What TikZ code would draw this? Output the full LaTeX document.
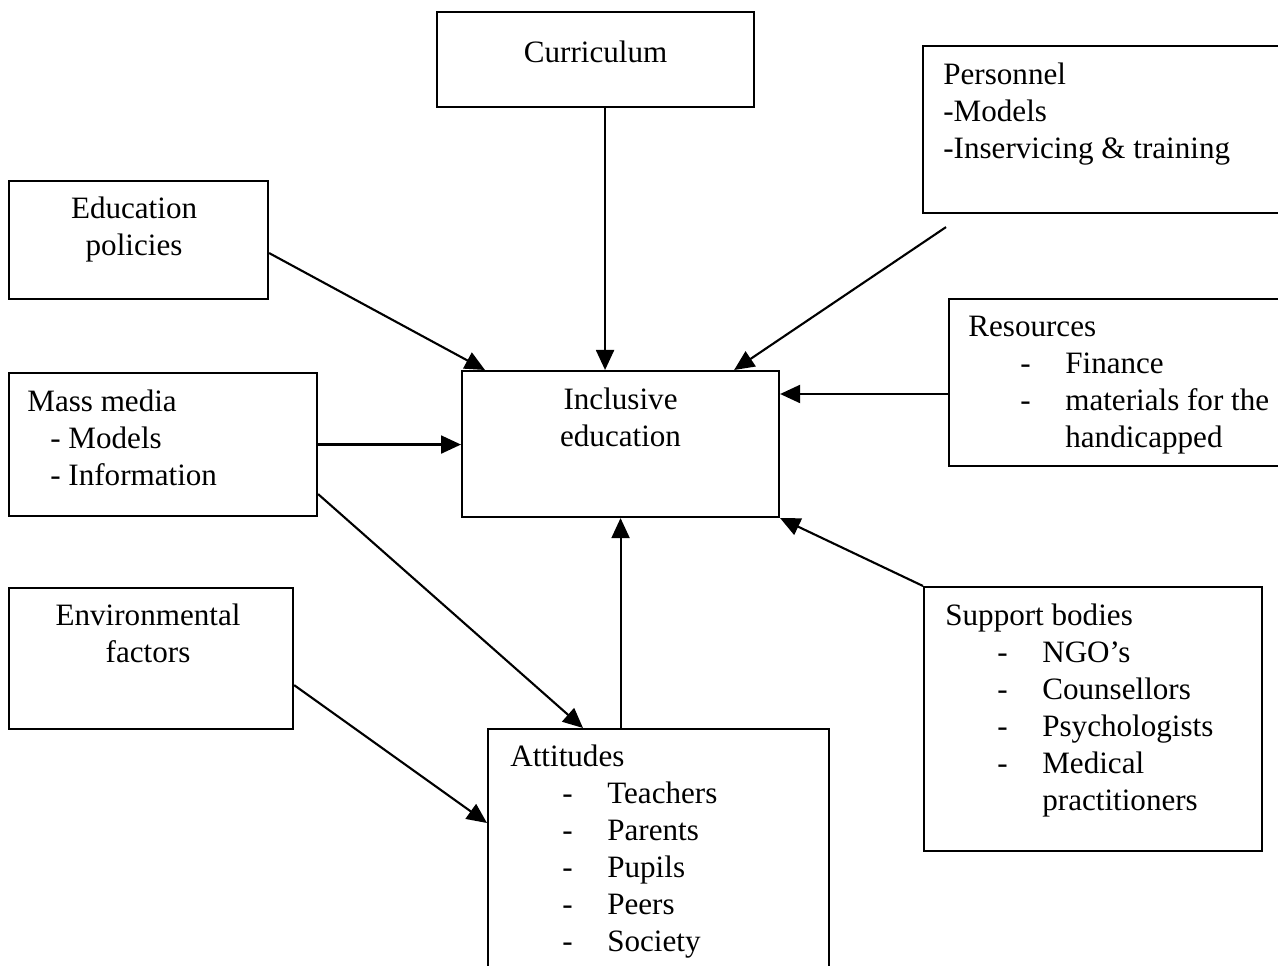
\documentclass[tikz,border=0pt]{standalone}
\usepackage{fontspec}
\setmainfont{Liberation Serif}
\usetikzlibrary{positioning, arrows.meta, calc}
\tikzstyle{boxframe} = [rectangle, draw, line width=1.2pt, inner sep=0pt, anchor=north west]
\tikzstyle{boxtext} = [inner sep=0pt, align=left, anchor=north west]
\tikzstyle{arrow} = [line width=1.2pt, -{Triangle[length=0.4cm, width=0.36cm]}]
\newcommand{\dashitem}[1]{\hspace*{1.04cm}\makebox[0.9cm][l]{-}#1}
\newcommand{\dashcont}[1]{\hspace*{1.94cm}#1}

\begin{document}
\begin{tikzpicture}[font=\fontsize{17.7}{21}\selectfont]
    \clip (0,0) rectangle (25.56,-19.32);
    \fill [white] (0,0) rectangle (25.56,-19.32);

    % frames
    \node (cur) [boxframe, minimum width=6.34cm, minimum height=1.9cm] at (8.72,-0.22) {};
    \node (per) [boxframe, minimum width=7.56cm, minimum height=3.34cm] at (18.44,-0.9) {};
    \node (edu) [boxframe, minimum width=5.18cm, minimum height=2.36cm] at (0.16,-3.6) {};
    \node (res) [boxframe, minimum width=7.04cm, minimum height=3.34cm] at (18.96,-5.96) {};
    \node (mm) [boxframe, minimum width=6.16cm, minimum height=2.86cm] at (0.16,-7.44) {};
    \node (incl) [boxframe, minimum width=6.34cm, minimum height=2.92cm] at (9.22,-7.4) {};
    \node (env) [boxframe, minimum width=5.68cm, minimum height=2.82cm] at (0.16,-11.74) {};
    \node (sup) [boxframe, minimum width=6.76cm, minimum height=5.28cm] at (18.46,-11.72) {};
    \node (att) [boxframe, minimum width=6.82cm, minimum height=5cm] at (9.74,-14.56) {};

    % texts
    \node (curtxt) [boxtext, below=0.6cm of cur.north] {Curriculum};
    \node (pertxt) [boxtext, below right=0.36cm and 0.42cm of per.north west] {Personnel\\-Models\\-Inservicing \& training};
    \node (edutxt) [boxtext, align=center, below=0.34cm of edu.north, xshift=-0.09cm] {Education\\policies};
    \node (restxt) [boxtext, below right=0.36cm and 0.4cm of res.north west] {Resources\\\dashitem{Finance}\\\dashitem{materials for the}\\\dashcont{handicapped}};
    \node (mmtxt) [boxtext, below right=0.36cm and 0.38cm of mm.north west] {Mass media\\\hspace*{0.46cm}- Models\\\hspace*{0.46cm}- Information};
    \node (incltxt) [boxtext, align=center, below=0.36cm of incl.north] {Inclusive\\education};
    \node (envtxt) [boxtext, align=center, below=0.34cm of env.north, xshift=-0.06cm] {Environmental\\factors};
    \node (suptxt) [boxtext, below right=0.36cm and 0.44cm of sup.north west] {Support bodies\\\dashitem{NGO’s}\\\dashitem{Counsellors}\\\dashitem{Psychologists}\\\dashitem{Medical}\\\dashcont{practitioners}};
    \node (atttxt) [boxtext, below right=0.34cm and 0.46cm of att.north west] {Attitudes\\\dashitem{Teachers}\\\dashitem{Parents}\\\dashitem{Pupils}\\\dashitem{Peers}\\\dashitem{Society}};

    % connectors
    \coordinate (curin) at ([xshift=-0.31cm]incl.north);
    \coordinate (resin) at ([yshift=-0.48cm]incl.north east);
    \draw [arrow] (cur.south -| curin) -- (curin);
    \draw [arrow] ([yshift=-0.26cm]edu.east) -- ([xshift=0.48cm]incl.north west);
    \draw [arrow] ([xshift=0.48cm, yshift=-0.26cm]per.south west) -- ([xshift=-0.92cm]incl.north east);
    \draw [arrow] (res.west |- resin) -- (resin);
    \draw [arrow] (mm.east) -- (mm.east -| incl.west);
    \draw [arrow] ([yshift=0.46cm]mm.south east) -- ([xshift=1.92cm]att.north west);
    \draw [arrow] ([yshift=0.9cm]env.south east) -- ([yshift=-1.9cm]att.north west);
    \draw [arrow] (incl.south |- att.north) -- (incl.south);
    \draw [arrow] (sup.north west) -- (incl.south east);
\end{tikzpicture}
\end{document}
